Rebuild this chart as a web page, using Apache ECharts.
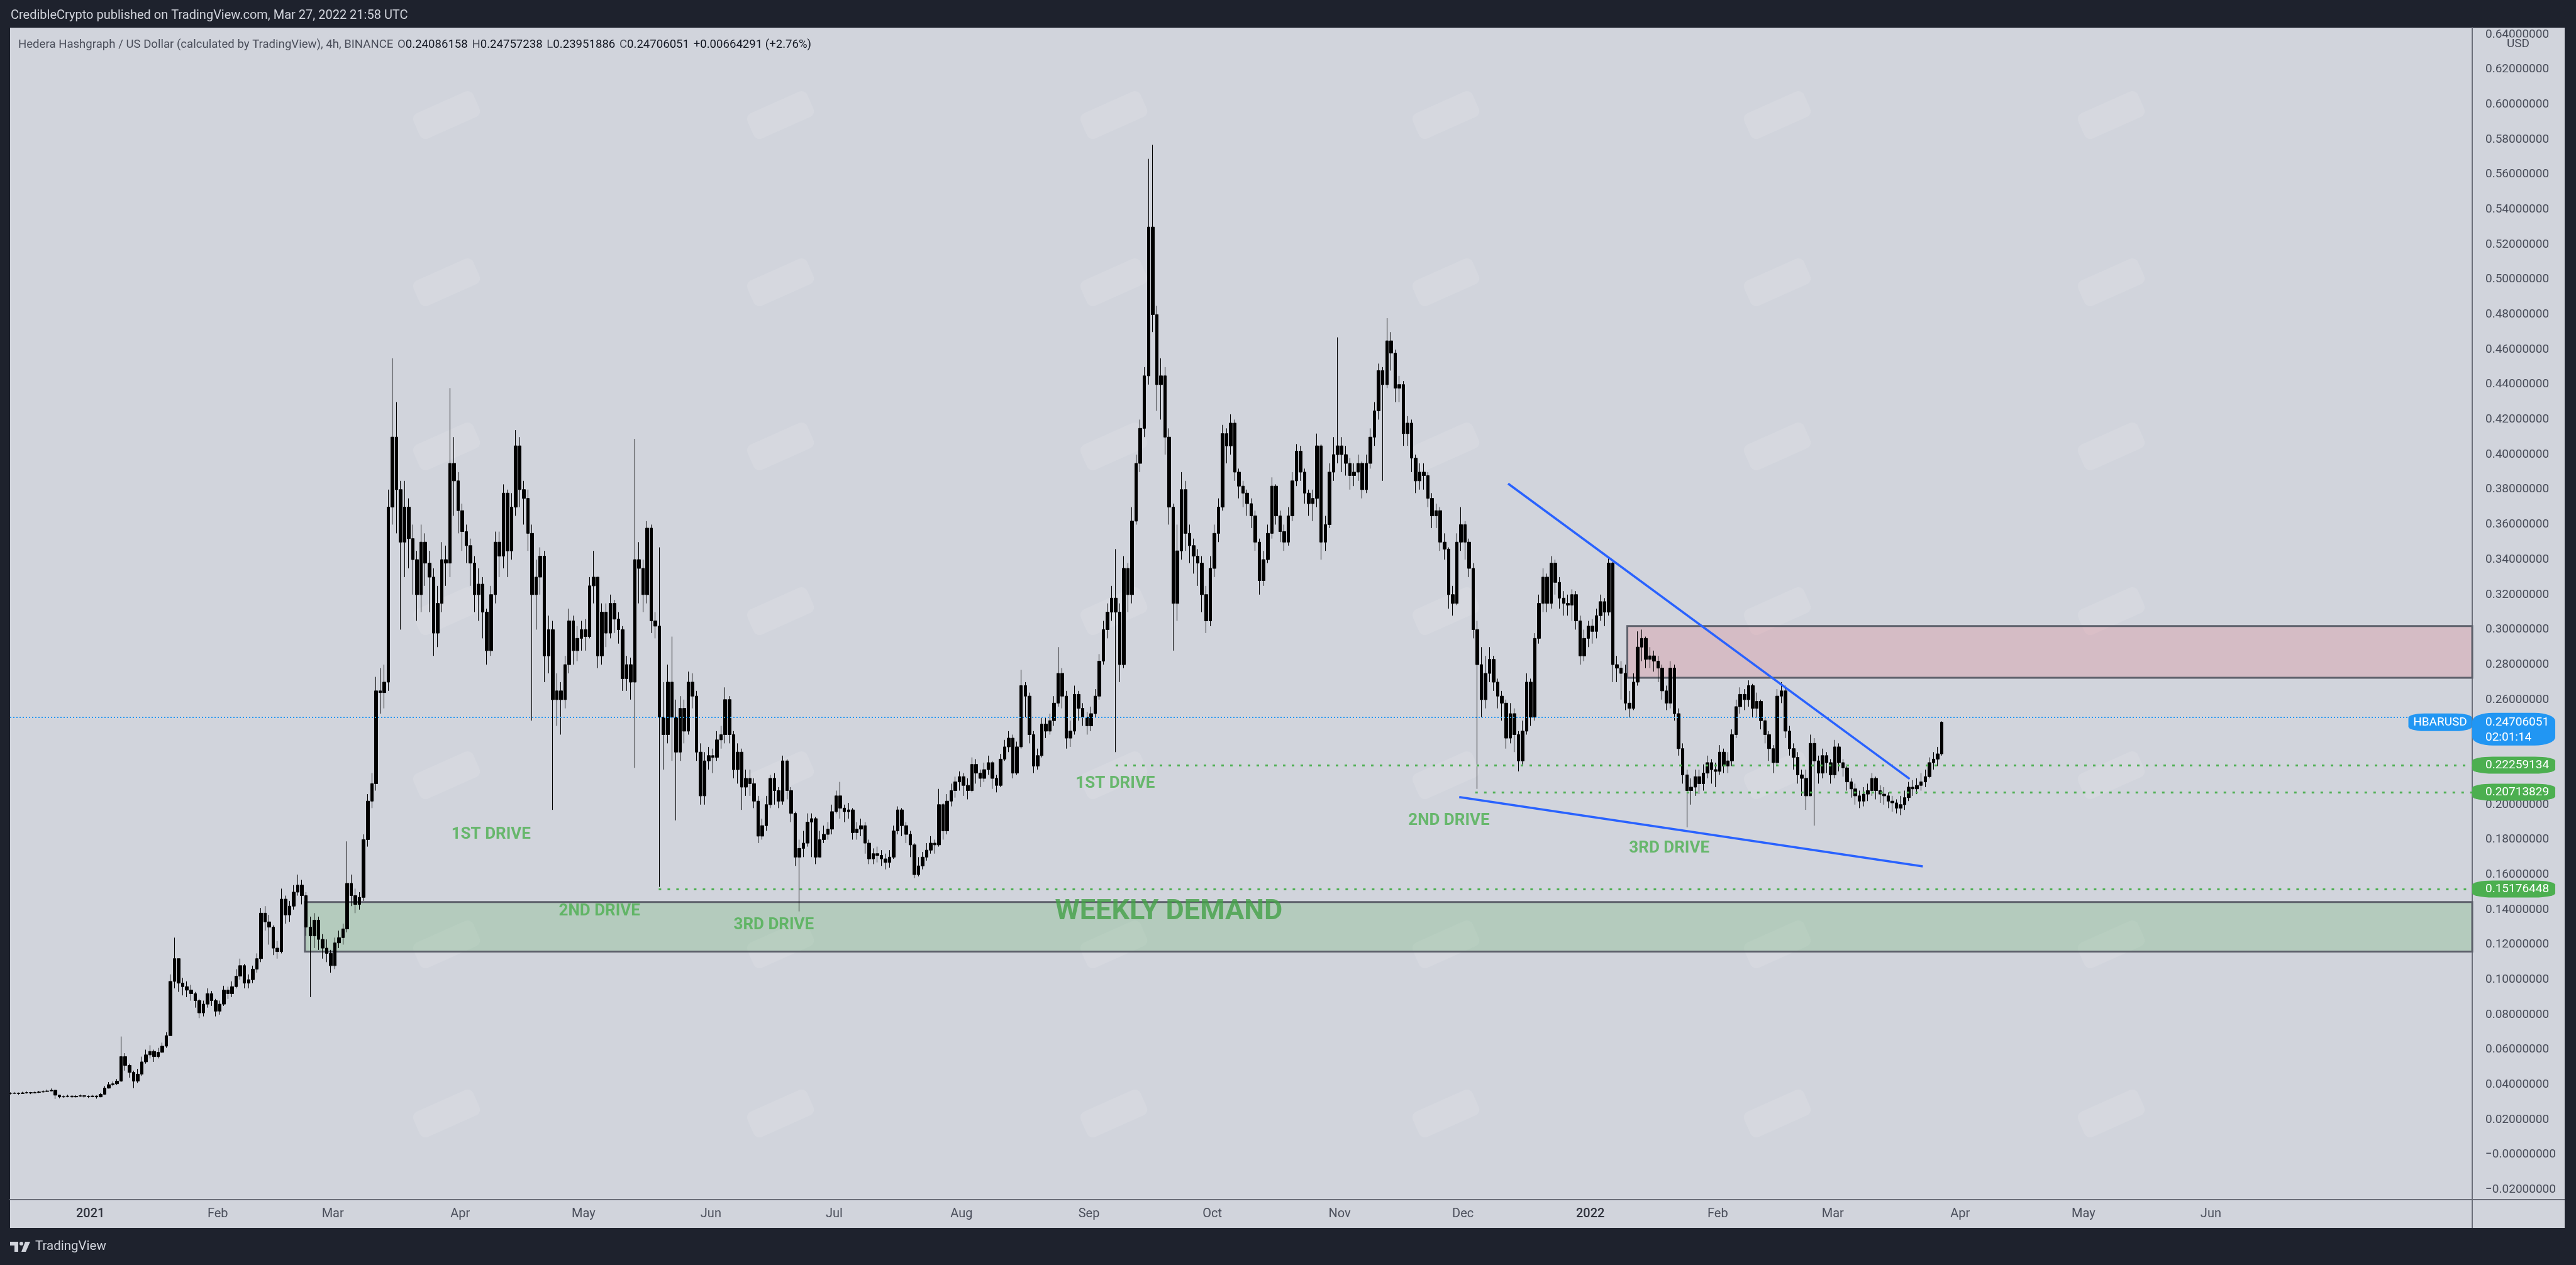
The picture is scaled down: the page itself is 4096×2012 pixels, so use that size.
<!DOCTYPE html>
<html>
<head>
<meta charset="utf-8">
<title>HBARUSD 4h</title>
<script src="https://cdn.jsdelivr.net/npm/echarts@6.0.0/dist/echarts.min.js"></script>
<style>
html,body{margin:0;padding:0;background:#1e222d;overflow:hidden}
#chart{width:4096px;height:2012px}
</style>
</head>
<body>
<div id="chart"></div>
<script>
// ================= DATA =================
const firstCandle = '2020-12-12T12:00:00'; // one candle per day from here
const closes = [
.0350,.0352,.0349,.0353,.0355,.0352,.0356,.0358,.0361,.0364,
.0368,.0340,.0330,.0332,.0335,.0330,.0334,.0337,.0333,.0331,
.0335,.0330,.0345,.0380,.0400,.0405,.0420,.0560,.0510,.0470,
.0420,.0460,.0530,.0570,.0590,.0560,.0585,.0620,.0680,.0990,
.1120,.0980,.0960,.0940,.0920,.0880,.0810,.0860,.0920,.0880,
.0820,.0860,.0940,.0920,.0960,.1020,.1080,.0980,.1000,.1060,
.1120,.1380,.1330,.1300,.1180,.1160,.1460,.1370,.1420,.1500,
.1540,.1480,.1300,.1250,.1340,.1230,.1180,.1150,.1080,.1210,
.1240,.1290,.1550,.1480,.1430,.1470,.1800,.2020,.2120,.2650,
.2640,.2700,.3700,.4100,.3800,.3500,.3700,.3520,.3400,.3200,
.3500,.3380,.3300,.2980,.3150,.3400,.3380,.3950,.3850,.3680,
.3560,.3480,.3380,.3200,.3260,.3100,.2880,.3200,.3500,.3420,
.3780,.3450,.3700,.4050,.3800,.3750,.3550,.3200,.3300,.3420,
.2850,.3000,.2600,.2650,.2600,.2800,.3050,.2880,.2950,.3000,
.2960,.3250,.3300,.2850,.3100,.2980,.3150,.3060,.3000,.2720,
.2800,.2700,.3400,.3350,.3200,.3580,.3050,.3020,.2500,.2400,
.2700,.2500,.2300,.2550,.2420,.2700,.2620,.2300,.2050,.2250,
.2280,.2270,.2370,.2400,.2600,.2400,.2200,.2300,.2100,.2150,
.2120,.2020,.1820,.1880,.2000,.2150,.2080,.2020,.2250,.2080,
.1950,.1700,.1750,.1780,.1900,.1920,.1700,.1800,.1830,.1860,
.1960,.2050,.1980,.1960,.1970,.1840,.1860,.1880,.1780,.1690,
.1720,.1710,.1690,.1670,.1700,.1850,.1970,.1880,.1830,.1770,
.1600,.1650,.1700,.1740,.1780,.1770,.2000,.1850,.2020,.2080,
.2130,.2160,.2110,.2080,.2230,.2180,.2150,.2200,.2240,.2150,
.2110,.2260,.2330,.2380,.2180,.2330,.2680,.2620,.2400,.2220,
.2280,.2460,.2420,.2480,.2580,.2750,.2620,.2380,.2420,.2630,
.2550,.2500,.2450,.2520,.2620,.2820,.3000,.3100,.3180,.3100,
.2800,.3350,.3200,.3620,.3950,.4150,.4450,.5300,.4800,.4400,
.4450,.4100,.3700,.3150,.3450,.3800,.3550,.3480,.3420,.3380,
.3200,.3050,.3350,.3550,.3700,.4120,.4050,.4180,.3900,.3820,
.3780,.3720,.3650,.3500,.3280,.3400,.3550,.3820,.3650,.3560,
.3500,.3650,.3850,.4020,.3900,.3780,.3720,.3750,.4050,.3500,
.3600,.3900,.4000,.4050,.4000,.3950,.3880,.3900,.3950,.3800,
.3950,.4100,.4250,.4480,.4400,.4650,.4580,.4380,.4400,.4120,
.4180,.3980,.3850,.3900,.3880,.3750,.3650,.3680,.3500,.3460,
.3200,.3150,.3500,.3600,.3500,.3350,.3000,.2800,.2600,.2750,
.2830,.2700,.2620,.2580,.2380,.2520,.2400,.2250,.2420,.2700,
.2500,.2950,.3150,.3300,.3150,.3380,.3270,.3180,.3150,.3140,
.3200,.3050,.2850,.2950,.3020,.2990,.3080,.3160,.3100,.3380,
.2800,.2780,.2750,.2580,.2550,.2700,.2900,.2950,.2830,.2850,
.2820,.2780,.2650,.2580,.2780,.2520,.2320,.2170,.2080,.2100,
.2160,.2120,.2180,.2240,.2200,.2190,.2300,.2220,.2250,.2400,
.2560,.2630,.2600,.2680,.2550,.2590,.2480,.2400,.2320,.2240,
.2620,.2650,.2420,.2320,.2270,.2170,.2150,.2050,.2350,.2250,
.2180,.2280,.2240,.2170,.2330,.2240,.2210,.2130,.2090,.2050,
.2020,.2060,.2080,.2150,.2080,.2060,.2050,.2020,.2010,.1980,
.2000,.2040,.2100,.2090,.2110,.2130,.2160,.2240,.2260,.2290,
.2471
];
const highs = [
.0356,.0358,.0355,.0359,.0361,.0358,.0362,.0364,.0368,.0372,
.0378,.0370,.0342,.0338,.0342,.0338,.0340,.0344,.0340,.0338,
.0342,.0338,.0352,.0392,.0415,.0418,.0432,.0675,.0580,.0520,
.0480,.0490,.0560,.0600,.0625,.0600,.0610,.0640,.0700,.1030,
.1240,.1120,.1010,.0990,.0970,.0930,.0890,.0880,.0950,.0935,
.0890,.0880,.0965,.0960,.0990,.1060,.1120,.1090,.1030,.1080,
.1150,.1410,.1420,.1370,.1310,.1220,.1520,.1480,.1450,.1540,
.1600,.1570,.1500,.1360,.1380,.1360,.1260,.1230,.1170,.1240,
.1280,.1320,.1790,.1600,.1520,.1500,.1830,.2060,.2180,.2730,
.2780,.2800,.3800,.4550,.4300,.3850,.3850,.3750,.3600,.3450,
.3600,.3550,.3450,.3350,.3250,.3500,.3480,.4380,.4100,.3900,
.3720,.3600,.3520,.3420,.3350,.3300,.3120,.3250,.3560,.3560,
.3830,.3800,.3780,.4140,.4100,.3850,.3800,.3600,.3400,.3470,
.3450,.3080,.3050,.2750,.2700,.2850,.3120,.3080,.3020,.3050,
.3060,.3300,.3450,.3300,.3150,.3150,.3200,.3170,.3100,.3020,
.2850,.2840,.4090,.3500,.3400,.3620,.3600,.3100,.3470,.2700,
.2800,.2960,.2600,.2620,.2600,.2760,.2750,.2650,.2350,.2300,
.2330,.2320,.2420,.2450,.2670,.2620,.2420,.2350,.2320,.2200,
.2200,.2150,.2050,.1920,.2050,.2170,.2180,.2100,.2280,.2260,
.2100,.1960,.1800,.1850,.1950,.1950,.1930,.1850,.1880,.1900,
.2000,.2080,.2130,.2000,.2010,.1980,.1900,.1920,.1900,.1800,
.1750,.1760,.1740,.1720,.1740,.1880,.1990,.1980,.1900,.1850,
.1780,.1700,.1730,.1780,.1820,.1800,.2090,.2010,.2060,.2120,
.2160,.2190,.2180,.2150,.2270,.2260,.2200,.2240,.2280,.2250,
.2170,.2290,.2370,.2420,.2400,.2360,.2770,.2700,.2640,.2420,
.2320,.2500,.2500,.2520,.2620,.2900,.2780,.2650,.2480,.2680,
.2650,.2580,.2530,.2560,.2660,.2860,.3050,.3150,.3250,.3460,
.3150,.3420,.3380,.3700,.4000,.4200,.4500,.5690,.5770,.4850,
.4550,.4500,.4150,.3720,.3600,.3900,.3850,.3600,.3520,.3460,
.3420,.3250,.3420,.3600,.3750,.4170,.4150,.4230,.4200,.3920,
.3850,.3800,.3750,.3680,.3520,.3450,.3600,.3870,.3830,.3680,
.3600,.3700,.3900,.4060,.4050,.3920,.3800,.3800,.4120,.4060,
.3650,.3950,.4100,.4670,.4100,.4050,.3980,.3950,.4000,.3960,
.4000,.4150,.4300,.4520,.4500,.4780,.4700,.4600,.4450,.4420,
.4220,.4200,.4000,.3950,.3950,.3900,.3780,.3720,.3700,.3550,
.3470,.3250,.3550,.3700,.3620,.3520,.3380,.3050,.2900,.2850,
.2900,.2850,.2720,.2650,.2600,.2580,.2550,.2420,.2480,.2750,
.2720,.2980,.3200,.3350,.3320,.3420,.3400,.3300,.3220,.3200,
.3230,.3220,.3080,.3000,.3050,.3060,.3120,.3200,.3180,.3410,
.3400,.2850,.2820,.2800,.2650,.2750,.2990,.3000,.2960,.2900,
.2880,.2850,.2800,.2680,.2820,.2800,.2550,.2350,.2200,.2150,
.2200,.2200,.2230,.2280,.2260,.2240,.2340,.2320,.2300,.2430,
.2600,.2670,.2660,.2710,.2690,.2640,.2600,.2500,.2420,.2340,
.2660,.2700,.2680,.2450,.2350,.2300,.2200,.2200,.2400,.2380,
.2280,.2320,.2300,.2260,.2370,.2350,.2260,.2230,.2150,.2120,
.2080,.2100,.2120,.2180,.2160,.2110,.2100,.2070,.2050,.2030,
.2050,.2080,.2130,.2140,.2150,.2180,.2200,.2270,.2300,.2330,
.2476
];
const lows = [
.0344,.0346,.0343,.0347,.0349,.0346,.0350,.0352,.0355,.0358,
.0362,.0318,.0322,.0325,.0328,.0324,.0327,.0330,.0326,.0324,
.0328,.0320,.0328,.0342,.0378,.0392,.0398,.0415,.0480,.0440,
.0380,.0410,.0450,.0520,.0550,.0530,.0550,.0580,.0610,.0680,
.0950,.0930,.0910,.0900,.0880,.0840,.0780,.0790,.0840,.0850,
.0790,.0800,.0850,.0890,.0900,.0950,.1000,.0950,.0950,.0980,
.1040,.1100,.1280,.1200,.1140,.1120,.1150,.1320,.1330,.1400,
.1480,.1430,.1250,.0900,.1180,.1170,.1120,.1100,.1040,.1060,
.1180,.1200,.1270,.1420,.1380,.1400,.1450,.1760,.1980,.2080,
.2520,.2550,.2650,.3600,.3550,.3000,.3300,.3350,.3200,.3050,
.3100,.3250,.3100,.2850,.2900,.3100,.3250,.3300,.3650,.3550,
.3450,.3380,.3250,.3100,.3050,.2950,.2800,.2850,.3150,.3300,
.3350,.3300,.3400,.3650,.3700,.3600,.3450,.2480,.3000,.3200,
.2700,.2750,.1970,.2450,.2400,.2550,.2750,.2800,.2820,.2880,
.2880,.2950,.3150,.2780,.2800,.2900,.2950,.2980,.2920,.2650,
.2650,.2600,.2210,.3150,.3100,.3150,.2980,.2950,.1530,.2200,
.2350,.2250,.1910,.2250,.2350,.2400,.2550,.2250,.2000,.2000,
.2200,.2180,.2250,.2320,.2350,.2350,.2150,.2120,.1970,.2050,
.2050,.1980,.1780,.1800,.1850,.1980,.2000,.1980,.2000,.2030,
.1900,.1650,.1390,.1700,.1760,.1700,.1660,.1700,.1780,.1800,
.1830,.1950,.1920,.1900,.1920,.1800,.1800,.1820,.1720,.1660,
.1660,.1670,.1650,.1630,.1640,.1690,.1830,.1820,.1780,.1700,
.1580,.1590,.1630,.1680,.1720,.1720,.1760,.1800,.1830,.1990,
.2040,.2080,.2050,.2030,.2070,.2120,.2100,.2130,.2170,.2090,
.2070,.2100,.2250,.2300,.2150,.2170,.2320,.2500,.2350,.2180,
.2200,.2270,.2380,.2400,.2450,.2560,.2550,.2320,.2330,.2400,
.2480,.2450,.2400,.2420,.2500,.2600,.2800,.2950,.3050,.2300,
.2700,.2780,.3100,.3150,.3600,.3900,.4100,.4400,.4700,.4250,
.4200,.4000,.3600,.2880,.3050,.3400,.3450,.3380,.3320,.3250,
.3100,.2980,.3020,.3300,.3500,.3680,.3950,.4000,.3850,.3750,
.3700,.3650,.3580,.3450,.3200,.3250,.3380,.3520,.3600,.3500,
.3450,.3480,.3620,.3820,.3850,.3720,.3650,.3620,.3700,.3400,
.3450,.3580,.3850,.3950,.3900,.3880,.3800,.3820,.3850,.3750,
.3780,.3920,.4050,.4200,.3850,.4380,.4480,.4300,.4300,.4050,
.4050,.3900,.3780,.3800,.3800,.3700,.3580,.3580,.3450,.3400,
.3120,.3080,.3140,.3450,.3400,.3300,.2950,.2090,.2500,.2550,
.2700,.2650,.2550,.2480,.2320,.2350,.2300,.2190,.2230,.2400,
.2450,.2480,.2920,.3100,.3100,.3120,.3200,.3120,.3080,.3080,
.3050,.3000,.2800,.2820,.2900,.2920,.2950,.3050,.3020,.3080,
.2700,.2700,.2600,.2540,.2500,.2540,.2680,.2820,.2780,.2780,
.2760,.2700,.2600,.2540,.2550,.2480,.2280,.2120,.1870,.2000,
.2050,.2060,.2080,.2150,.2120,.2100,.2170,.2180,.2180,.2220,
.2380,.2520,.2540,.2560,.2500,.2500,.2430,.2350,.2250,.2180,
.2220,.2580,.2380,.2280,.2200,.2120,.2050,.1970,.2050,.1880,
.2120,.2150,.2180,.2120,.2150,.2190,.2160,.2080,.2040,.2000,
.1980,.1990,.2020,.2050,.2030,.2010,.2000,.1980,.1960,.1950,
.1940,.1970,.2020,.2050,.2060,.2080,.2100,.2150,.2200,.2220,
.2280
];

// price axis tick labels
const yTicks = [-0.02,0,0.02,0.04,0.06,0.08,0.10,0.12,0.14,0.16,0.18,0.20,0.22,0.24,0.26,0.28,0.30,
  0.32,0.34,0.36,0.38,0.40,0.42,0.44,0.46,0.48,0.50,0.52,0.54,0.56,0.58,0.60,0.62,0.64];
// time axis tick labels
const monthTicks = ['2021-01-01','2021-02-01','2021-03-01','2021-04-01','2021-05-01','2021-06-01',
  '2021-07-01','2021-08-01','2021-09-01','2021-10-01','2021-11-01','2021-12-01','2022-01-01',
  '2022-02-01','2022-03-01','2022-04-01','2022-05-01','2022-06-01'];
const monthLabels = ['2021','Feb','Mar','Apr','May','Jun','Jul','Aug','Sep','Oct','Nov','Dec','2022',
  'Feb','Mar','Apr','May','Jun'];
const boldLabels = ['2021','2022'];

// annotation texts
const driveTexts = ['1ST DRIVE','2ND DRIVE','3RD DRIVE','1ST DRIVE','2ND DRIVE','3RD DRIVE'];
const driveDates = ['2021-04-08T12:00:00','2021-05-04T21:36:00','2021-06-16T07:12:00',
  '2021-09-07T09:36:00','2021-11-27T14:24:00','2022-01-20T04:48:00'];
const drivePrices = [0.1830,0.1389,0.1313,0.2121,0.1906,0.1748];
const zoneText = ['WEEKLY DEMAND'];
const zoneTextDate = ['2021-09-20T09:36:00'];
const zoneTextPrice = [0.1385];

// zones (rectangles extend to the right edge)
const zoneStarts = ['2021-02-22T04:48:00','2022-01-10T00:00:00'];
const zoneTops = [0.1443,0.3020];
const zoneBottoms = [0.1160,0.2725];

// horizontal levels (dotted, extend right)
const levelValues = [0.15176448,0.22259134,0.20713829];
const levelStarts = ['2021-05-19T07:12:00','2021-09-07T12:00:00','2021-12-04T00:00:00'];

// trend lines
const trendStart = [['2021-12-12T00:00:00',0.3834],['2021-11-30T02:24:00',0.2043]];
const trendEnd = [['2022-03-19T16:48:00',0.2147],['2022-03-22T21:36:00',0.1647]];

// last price
const lastPrice = 0.24706051;
const countdown = '02:01:14';
const symbolName = 'HBARUSD';
const legendTitle = 'Hedera Hashgraph / US Dollar (calculated by TradingView), 4h, BINANCE';
const ohlcKeys = ['O','H','L','C'];
const ohlcVals = ['0.24086158','0.24757238','0.23951886','0.24706051'];
const changeText = '+0.00664291 (+2.76%)';

// view range
const viewStart = '2020-12-12T11:02:00';
const viewEnd = '2022-08-03T14:24:00';
const priceMin = -0.02569, priceMax = 0.64396;

// ================= BUILD =================
const DAY = 86400000;
const ts = s => Date.parse(s + 'Z');
const t0 = ts(firstCandle);
const xMin = ts(viewStart), xMax = ts(viewEnd);
const candles = closes.map((c, i) => [t0 + i * DAY, i ? closes[i - 1] : c, c, lows[i], highs[i]]);

const FONT = 'Roboto, "Noto Sans", sans-serif';
const fmtPrice = v => (v <= 0 ? '\u2212' : '') + Math.abs(v).toFixed(8);
const tickTs = monthTicks.map(m => ts(m + 'T00:00:00'));
const tickMap = {};
tickTs.forEach((t, i) => tickMap[t] = monthLabels[i]);

const GREEN = '#4caf50';
const BLUE = '#2196f3';

// faint TradingView watermark tiles (decoration)
const wmCols = [710, 1241, 1771, 2299, 2826, 3357];
const wmRows = [183, 449, 710, 972, 1233, 1502, 1771];
const watermarks = [];
wmCols.forEach(cx => wmRows.forEach(cy => watermarks.push({
  type: 'rect', z: -90, silent: true, x: cx, y: cy, rotation: 0.42,
  shape: { x: -52, y: -22, width: 104, height: 44, r: 10 },
  style: { fill: 'rgba(255,255,255,0.11)' }
})));

const chart = echarts.init(document.getElementById('chart'));
chart.setOption({
  animation: false,
  backgroundColor: '#1e222d',
  grid: { left: 16, right: 165, top: 44, bottom: 104, show: false },
  xAxis: {
    type: 'value', min: xMin, max: xMax, scale: true,
    axisLine: { show: true, onZero: false, lineStyle: { color: '#6a6d78', width: 2 } },
    axisTick: { show: false },
    splitLine: { show: false },
    axisLabel: {
      customValues: tickTs, margin: 13, color: '#4a4e5a', fontSize: 20, fontFamily: FONT,
      formatter: v => {
        const l = tickMap[v] || '';
        return boldLabels.includes(l) ? '{b|' + l + '}' : l;
      },
      rich: { b: { fontWeight: 500, fontSize: 20, fontFamily: FONT, color: '#2f323c' } }
    }
  },
  yAxis: {
    type: 'value', position: 'right', min: priceMin, max: priceMax,
    axisLine: { show: true, lineStyle: { color: '#6a6d78', width: 2 } },
    axisTick: { show: false },
    splitLine: { show: false },
    axisLabel: {
      customValues: yTicks, margin: 21, align: 'left', color: '#474b57',
      fontSize: 19, fontFamily: FONT, formatter: fmtPrice
    }
  },
  series: [
    {
      type: 'candlestick', name: 'HBARUSD',
      data: candles, encode: { x: 0, y: [1, 2, 3, 4] },
      barWidth: 5, clip: true, z: 3,
      itemStyle: { color: '#000', color0: '#000', borderColor: '#000', borderColor0: '#000', borderWidth: 1 },
      markLine: {
        silent: true, symbol: ['none', 'none'], animation: false,
        label: { show: false },
        data: [
          { yAxis: lastPrice, lineStyle: { color: BLUE, width: 2, type: [2, 3] } }
        ]
      }
    },
    {
      type: 'line', name: 'zones', data: [], z: 4,
      markArea: {
        silent: true,
        data: zoneStarts.map((s, i) => [
          { coord: [ts(s), zoneTops[i]], itemStyle: {
              color: i === 0 ? 'rgba(76,175,80,0.22)' : 'rgba(242,54,69,0.15)',
              borderColor: '#5d606b', borderWidth: 3 } },
          { coord: [xMax, zoneBottoms[i]] }
        ])
      },
      markLine: {
        silent: true, symbol: ['none', 'none'], label: { show: false },
        data: levelValues.map((v, i) => [
          { coord: [ts(levelStarts[i]), v], lineStyle: { color: GREEN, width: 3, type: [4, 10] } },
          { coord: [xMax, v] }
        ]).concat(trendStart.map((p, i) => [
          { coord: [ts(p[0]), p[1]], lineStyle: { color: '#2962ff', width: 3.5, type: 'solid' } },
          { coord: [ts(trendEnd[i][0]), trendEnd[i][1]] }
        ]))
      },
      markPoint: {
        silent: true,
        data: levelValues.map(v => ({
          coord: [xMax, v], symbol: 'roundRect', symbolSize: [132, 27], symbolOffset: [66, 0],
          itemStyle: { color: GREEN },
          label: { show: true, formatter: v.toFixed(8), color: '#fff', fontSize: 19, fontFamily: FONT,
                   position: [21, '50%'], align: 'left', verticalAlign: 'middle' }
        })).concat([
          {
            coord: [xMax, lastPrice], symbol: 'roundRect', symbolSize: [132, 52], symbolOffset: [66, 11],
            itemStyle: { color: BLUE },
            label: { show: true, formatter: lastPrice.toFixed(8) + '\n' + countdown, color: '#fff',
                     fontSize: 19, lineHeight: 24, fontFamily: FONT,
                     position: [21, 3], align: 'left', verticalAlign: 'top' }
          },
          {
            coord: [xMax, lastPrice], symbol: 'roundRect', symbolSize: [101, 28], symbolOffset: [-51, 0],
            itemStyle: { color: BLUE },
            label: { show: true, formatter: symbolName, color: '#fff', fontSize: 19, fontFamily: FONT,
                     position: 'inside' }
          }
        ])
      }
    },
    {
      type: 'scatter', name: 'drives', symbolSize: 0, z: 5, silent: true,
      data: driveTexts.map((t, i) => ({ name: t, value: [ts(driveDates[i]), drivePrices[i]] })),
      label: { show: true, position: 'inside', formatter: '{b}', color: GREEN,
               fontSize: 26, fontWeight: 'bold', fontFamily: FONT }
    },
    {
      type: 'scatter', name: 'zoneLabel', symbolSize: 0, z: 5, silent: true,
      data: zoneText.map((t, i) => ({ name: t, value: [ts(zoneTextDate[i]), zoneTextPrice[i]] })),
      label: { show: true, position: 'inside', formatter: '{b}', color: '#43a047',
               fontSize: 45, fontWeight: 'bold', fontFamily: FONT }
    }
  ],
  graphic: { elements: [
    { type: 'rect', z: -100, silent: true, shape: { x: 16, y: 44, width: 4062, height: 1909 },
      style: { fill: '#d1d4dc' } }
  ].concat(watermarks).concat([
    { type: 'line', z: 10, silent: true, shape: { x1: 3931, y1: 1908, x2: 3931, y2: 1953 },
      style: { stroke: '#6a6d78', lineWidth: 2 } },
    { type: 'line', z: 10, silent: true, shape: { x1: 3931, y1: 1908, x2: 4078, y2: 1908 },
      style: { stroke: '#6a6d78', lineWidth: 2 } },
    { type: 'text', z: 10, silent: true, x: 17, y: 25,
      style: { text: 'CredibleCrypto published on TradingView.com, Mar 27, 2022 21:58 UTC',
               fill: '#d1d4dc', font: '20px ' + FONT, verticalAlign: 'middle' } },
    { type: 'text', z: 10, silent: true, x: 29, y: 71,
      style: {
        text: '{t|' + legendTitle + '}  ' + ohlcKeys.map((k, i) => '{t|' + k + '}{v|' + ohlcVals[i] + '}').join('  ') + '  {v|' + changeText + '}',
        verticalAlign: 'middle',
        rich: { t: { fill: '#4a4e5a', font: '18.6px ' + FONT }, v: { fill: '#131722', font: '18.6px ' + FONT } }
      } },
    { type: 'text', z: 50, silent: true, x: 4004, y: 70,
      style: { text: 'USD', fill: '#474b57', font: '19px ' + FONT, align: 'center', verticalAlign: 'middle',
               backgroundColor: '#d1d4dc', padding: [1, 4] } },
    { type: 'rect', z: 10, silent: true, shape: { x: 16, y: 1975, width: 13, height: 6 }, style: { fill: '#d1d4dc' } },
    { type: 'rect', z: 10, silent: true, shape: { x: 23, y: 1975, width: 6, height: 16 }, style: { fill: '#d1d4dc' } },
    { type: 'circle', z: 10, silent: true, shape: { cx: 34, cy: 1978, r: 3 }, style: { fill: '#d1d4dc' } },
    { type: 'polygon', z: 10, silent: true, shape: { points: [[40, 1975], [48, 1975], [41, 1991], [34, 1991]] }, style: { fill: '#d1d4dc' } },
    { type: 'text', z: 10, silent: true, x: 56, y: 1983,
      style: { text: 'TradingView', fill: '#d1d4dc', font: '20.5px ' + FONT, verticalAlign: 'middle' } }
  ]) }
});
</script>
</body>
</html>
